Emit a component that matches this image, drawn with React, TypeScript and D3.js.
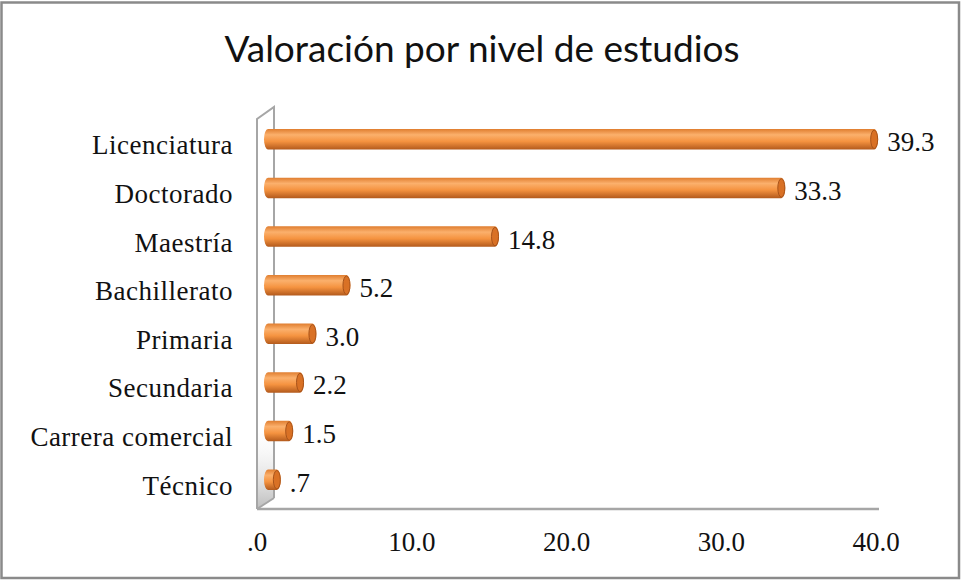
import React, { useRef, useEffect } from "react";
import * as d3 from "d3";

const categories = ["Licenciatura", "Doctorado", "Maestría", "Bachillerato", "Primaria", "Secundaria", "Carrera comercial", "Técnico"];
const values = [39.3, 33.3, 14.8, 5.2, 3.0, 2.2, 1.5, 0.7];
const ticks = [0, 10, 20, 30, 40];
const title = "Valoración por nivel de estudios";

const fmt = (v: number) => {
  const s = v.toFixed(1);
  return s.startsWith("0") ? s.slice(1) : s;
};

const App = () => {
  const ref = useRef<HTMLDivElement>(null);

  useEffect(() => {
    const width = 961;
    const height = 580;
    const serif = "'Liberation Serif', 'Times New Roman', serif";

    const svg = d3.create("svg")
      .attr("width", width)
      .attr("height", height)
      .attr("style", "display:block; background:#fff;");

    const defs = svg.append("defs");
    const grad = defs.append("linearGradient")
      .attr("id", "barGrad").attr("x1", 0).attr("y1", 0).attr("x2", 0).attr("y2", 1);
    grad.append("stop").attr("offset", "0%").attr("stop-color", "#e07e30");
    grad.append("stop").attr("offset", "28%").attr("stop-color", "#fbb06c");
    grad.append("stop").attr("offset", "60%").attr("stop-color", "#f59340");
    grad.append("stop").attr("offset", "100%").attr("stop-color", "#b35a1c");

    const wallGrad = defs.append("linearGradient")
      .attr("id", "wallGrad").attr("x1", 0).attr("y1", 0).attr("x2", 0).attr("y2", 1);
    wallGrad.append("stop").attr("offset", "0%").attr("stop-color", "#ffffff").attr("stop-opacity", 0);
    wallGrad.append("stop").attr("offset", "100%").attr("stop-color", "#b5b5b5").attr("stop-opacity", 0.9);

    // outer border
    svg.append("rect")
      .attr("x", 1.5).attr("y", 2.5).attr("width", 957.5).attr("height", 575.5)
      .attr("fill", "#fff").attr("stroke", "#8a8a8a").attr("stroke-width", 2.5);

    svg.append("text")
      .attr("x", 482).attr("y", 62)
      .attr("text-anchor", "middle")
      .attr("font-family", "Lato, 'Open Sans', sans-serif")
      .attr("font-size", 37)
      .attr("fill", "#111")
      .text(title);

    const y = d3.scaleBand<string>()
      .domain(categories)
      .range([115, 504])
      .paddingInner(0.58)
      .paddingOuter(0.29);

    // bars sit at mid depth, tick labels on the front plane
    const x = d3.scaleLinear().domain([0, 40]).range([270, 889]);
    const xFront = d3.scaleLinear().domain([0, 40]).range([257, 876]);

    const depth = 17;
    const frontX = 257;
    const topY = 119;
    const floorY = 509;

    // walls
    svg.append("path")
      .attr("d", `M${frontX},${floorY - 75} L${frontX + depth},${floorY - 86} L${frontX + depth},${floorY - 11} L${frontX},${floorY} Z`)
      .attr("fill", "url(#wallGrad)");
    const walls = svg.append("g").attr("fill", "none").attr("stroke", "#a6a6a6").attr("stroke-width", 2);
    walls.append("path")
      .attr("d", `M${frontX},${floorY} L${frontX},${topY} L${frontX + depth},${topY - 12} L${frontX + depth},${floorY - 11}`);
    walls.append("path")
      .attr("d", `M${frontX},${floorY} L${frontX + depth},${floorY - 11}`);
    walls.append("path")
      .attr("d", `M${frontX},${floorY} L${879},${floorY}`)
      .attr("stroke-width", 2.5);

    // bars as cylinders
    const bh = y.bandwidth();
    const bars = svg.append("g");
    categories.forEach((c, i) => {
      const v = values[i];
      const y0 = y(c)!;
      const x0 = x(0) - 6;
      const x1 = x(v);
      const rx = 4;
      const g = bars.append("g");
      g.append("path")
        .attr("d", `M${x0 + rx},${y0} L${x1 - rx},${y0} A${rx},${bh / 2} 0 0 1 ${x1 - rx},${y0 + bh} L${x0 + rx},${y0 + bh} A${rx},${bh / 2} 0 0 1 ${x0 + rx},${y0} Z`)
        .attr("fill", "url(#barGrad)");
      g.append("ellipse")
        .attr("cx", x1 - rx).attr("cy", y0 + bh / 2)
        .attr("rx", rx - 0.5).attr("ry", bh / 2 - 1)
        .attr("fill", "#d97125")
        .attr("stroke", "#a8531a").attr("stroke-width", 1);

      svg.append("text")
        .attr("x", x1 + 9).attr("y", y0 + bh / 2 + 12)
        .attr("font-family", serif)
        .attr("font-size", 27)
        .attr("fill", "#111")
        .text(fmt(v));

      svg.append("text")
        .attr("x", 233).attr("y", y0 + bh / 2 + 15)
        .attr("text-anchor", "end")
        .attr("font-family", serif)
        .attr("font-size", 27)
        .attr("letter-spacing", 0.5)
        .attr("fill", "#111")
        .text(c);
    });

    // x tick labels
    svg.append("g")
      .selectAll("text")
      .data(ticks)
      .join("text")
      .attr("x", d => xFront(d))
      .attr("y", 551)
      .attr("text-anchor", "middle")
      .attr("font-family", serif)
      .attr("font-size", 27)
      .attr("fill", "#111")
      .text(d => fmt(d));

    const container = ref.current!;
    container.innerHTML = "";
    container.appendChild(svg.node()!);
  }, []);

  return <div ref={ref} style={{ position: "absolute", left: 0, top: 0 }} />;
};

export default App;
